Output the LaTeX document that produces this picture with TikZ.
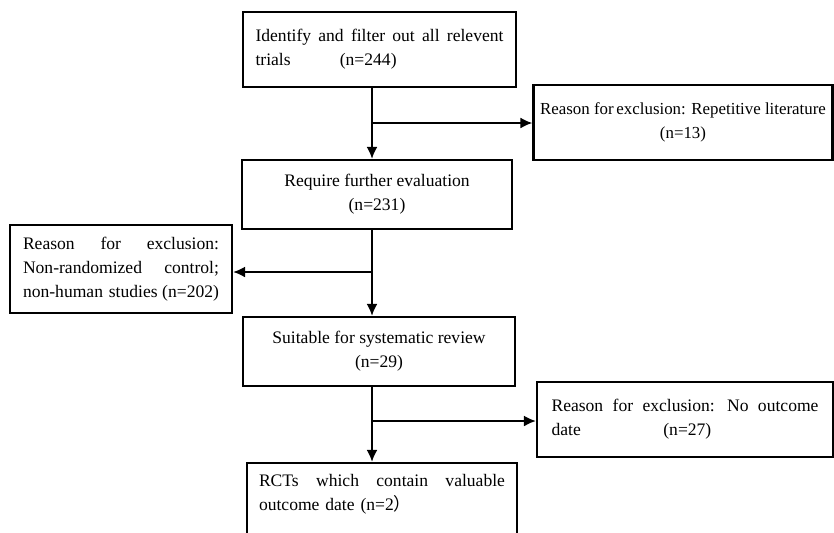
\documentclass[tikz,border=0pt]{standalone}
\usepackage{fontspec}
\setmainfont{Liberation Serif}
\newfontfamily\cjk{Noto Sans CJK SC}
\usetikzlibrary{arrows.meta}

\begin{document}
\begin{tikzpicture}[x=0.02cm,y=-0.02cm,font=\fontsize{10pt}{13.5pt}\selectfont]
  \useasboundingbox (0,0) rectangle (834,532);
  \clip (0,0) rectangle (834,532);
  \begin{scope}[every node/.style={draw,line width=1.3pt,inner ysep=0pt}]
    \node[text width=4.96cm,inner xsep=0.25cm,minimum height=1.5cm,align=left] (ident) at (379.5,49.5)
      {Identify \hfill and \hfill filter \hfill out \hfill all \hfill relevent\\ trials\hspace{2.8em}(n=244)};
    \node[minimum width=5.98cm,minimum height=1.5cm,align=center,
          font=\fontsize{9.6pt}{13.5pt}\selectfont] (rep) at (683,122.5)
      {Reason for\,exclusion: Repetitive literature\\(n=13)};
    \node[minimum width=5.4cm,minimum height=1.38cm,align=center] (eval) at (377,194.5)
      {Require further evaluation\\(n=231)};
    \node[text width=3.92cm,inner xsep=0.26cm,minimum height=1.76cm,align=left] (nonrand) at (121,269)
      {Reason \hfill for \hfill exclusion:\\ Non-randomized \hfill control;\\ non-human studies\hfill(n=202)};
    \node[minimum width=5.44cm,minimum height=1.38cm,align=center] (review) at (379,351.5)
      {Suitable for systematic review\\(n=29)};
    \node[text width=5.34cm,inner xsep=0.29cm,minimum height=1.5cm,align=left] (nodate) at (685,419.5)
      {Reason \hfill for \hfill exclusion: \hfill No \hfill outcome\\ date\hspace{4.7em}(n=27)};
    \node[text width=4.92cm,inner xsep=0.24cm,minimum height=1.64cm,align=left] (rct) at (382,504)
      {RCTs \hfill which \hfill contain \hfill valuable\\ outcome date (n=2{\cjk ）}\\\mbox{}};
  \end{scope}
  \coordinate (j1) at (372,123);
  \coordinate (j2) at (372,272);
  \coordinate (j3) at (372,421);
  \begin{scope}[every edge/.style={draw,line width=1.1pt,-{Latex[length=2.4mm,width=2.2mm]}}]
    \path (ident.south -| j1) edge (eval.north -| j1);
    \path (j1) edge (rep.west |- j1);
    \path (eval.south -| j2) edge (review.north -| j2);
    \path (j2) edge (nonrand.east |- j2);
    \path (review.south -| j3) edge (rct.north -| j3);
    \path (j3) edge (nodate.west |- j3);
  \end{scope}
\end{tikzpicture}
\end{document}
